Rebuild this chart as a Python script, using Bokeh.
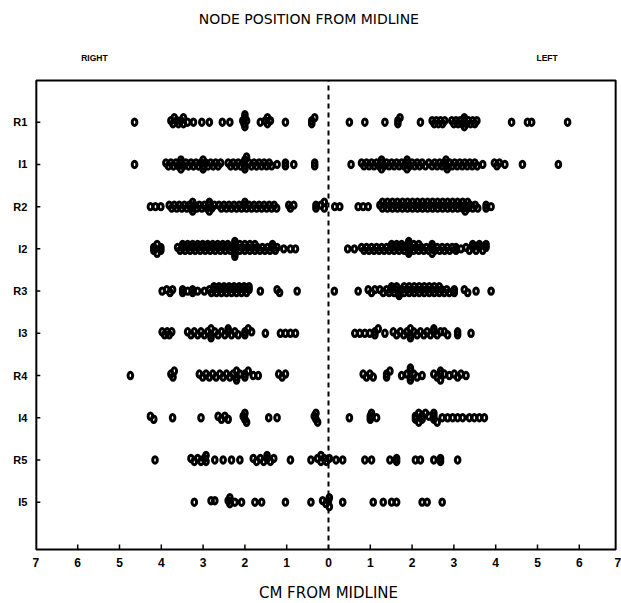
from bokeh.plotting import figure
from bokeh.models import Range1d, ColumnDataSource
from bokeh.core.properties import value
from bokeh.embed import file_html
from bokeh.resources import INLINE

# Row categories, top to bottom
rows = ["R1", "I1", "R2", "I2", "R3", "I3", "R4", "I4", "R5", "I5"]

# x axis ticks (cm from midline; negative = subject's RIGHT, positive = LEFT)
x_ticks = [-7, -6, -5, -4, -3, -2, -1, 0, 1, 2, 3, 4, 5, 6, 7]
x_tick_labels = ["7", "6", "5", "4", "3", "2", "1", "0", "1", "2", "3", "4", "5", "6", "7"]

# Node positions (cm); repeated values are coincident nodes
R1 = [-4.64, -3.77, -3.72, -3.69, -3.63, -3.59, -3.53, -3.47, -3.47, -3.37, -3.23, -3.03,
      -2.85, -2.54, -2.36, -2.05, -2.02, -2.0, -2.0, -2.0, -1.96, -1.63, -1.51, -1.46,
      -1.46, -1.39, -1.03, -0.40, -0.40, -0.33,
      0.50, 0.87, 1.35, 1.66, 1.66, 1.71, 2.20, 2.48, 2.53, 2.58, 2.63, 2.68, 2.73, 2.78,
      2.95, 3.00, 3.05, 3.10, 3.15, 3.20, 3.25, 3.25, 3.25, 3.30, 3.35, 3.40, 3.45, 3.50,
      3.55, 4.38, 4.76, 4.86, 5.72]

I1 = [-4.64, -3.89, -3.83, -3.77, -3.71, -3.65, -3.59, -3.53, -3.53, -3.53, -3.47, -3.41,
      -3.35, -3.29, -3.23, -3.17, -3.11, -3.05, -3.00, -3.00, -3.00, -2.94, -2.88, -2.82,
      -2.76, -2.70, -2.64, -2.58, -2.40, -2.34, -2.28, -2.22, -2.16, -2.10, -2.04, -2.00,
      -2.00, -2.00, -1.96, -1.90, -1.84, -1.78, -1.72, -1.66, -1.60, -1.54, -1.48, -1.42,
      -1.36, -1.23, -1.03, -1.03, -0.83, -0.33, -0.33,
      0.54, 0.79, 0.85, 0.91, 0.97, 1.03, 1.09, 1.15, 1.21, 1.27, 1.27, 1.27, 1.33, 1.39,
      1.45, 1.51, 1.57, 1.63, 1.69, 1.75, 1.81, 1.88, 1.88, 1.88, 1.94, 2.00, 2.06, 2.12,
      2.18, 2.24, 2.32, 2.40, 2.48, 2.54, 2.60, 2.66, 2.72, 2.78, 2.81, 2.81, 2.84, 2.90,
      2.96, 3.02, 3.08, 3.14, 3.20, 3.26, 3.32, 3.38, 3.44, 3.50, 3.56, 3.69, 3.97, 4.03,
      4.09, 4.22, 4.64, 5.50]

R2 = [-4.26, -4.14, -4.01, -3.81, -3.75, -3.69, -3.63, -3.57, -3.51, -3.45, -3.39, -3.33,
      -3.27, -3.25, -3.25, -3.21, -3.15, -3.09, -3.03, -2.97, -2.91, -2.85, -2.85, -2.85,
      -2.79, -2.73, -2.62, -2.56, -2.50, -2.44, -2.38, -2.32, -2.26, -2.20, -2.14, -2.08,
      -2.02, -2.00, -1.96, -1.90, -1.84, -1.78, -1.72, -1.66, -1.60, -1.54, -1.48, -1.42,
      -1.36, -1.30, -1.24, -0.95, -0.91, -0.83, -0.30, -0.30, -0.18, -0.10, -0.10,
      0.15, 0.27, 0.71, 0.83, 0.95, 1.23, 1.29, 1.29, 1.35, 1.41, 1.41, 1.47, 1.53, 1.53,
      1.59, 1.65, 1.65, 1.71, 1.77, 1.77, 1.83, 1.89, 1.89, 1.95, 2.01, 2.01, 2.07, 2.13,
      2.13, 2.19, 2.25, 2.25, 2.31, 2.37, 2.37, 2.43, 2.49, 2.49, 2.55, 2.61, 2.61, 2.67,
      2.73, 2.73, 2.79, 2.85, 2.85, 2.91, 2.97, 2.97, 3.03, 3.09, 3.09, 3.15, 3.21, 3.21,
      3.27, 3.27, 3.33, 3.33, 3.39, 3.45, 3.51, 3.57, 3.77, 3.77, 3.89]

I2 = [-4.18, -4.18, -4.10, -4.10, -4.01, -4.01, -3.61, -3.55, -3.49, -3.49, -3.43, -3.37,
      -3.37, -3.31, -3.25, -3.25, -3.19, -3.13, -3.13, -3.07, -3.01, -3.01, -2.95, -2.89,
      -2.89, -2.83, -2.77, -2.77, -2.71, -2.65, -2.65, -2.59, -2.53, -2.53, -2.47, -2.41,
      -2.41, -2.35, -2.30, -2.24, -2.24, -2.24, -2.24, -2.24, -2.18, -2.12, -2.12, -2.06,
      -2.00, -2.00, -1.94, -1.88, -1.88, -1.82, -1.76, -1.76, -1.70, -1.64, -1.58, -1.52,
      -1.46, -1.40, -1.34, -1.34, -1.27, -1.23, -1.07, -0.91, -0.79,
      0.46, 0.62, 0.79, 0.85, 0.91, 0.97, 1.03, 1.09, 1.15, 1.21, 1.27, 1.33, 1.39, 1.45,
      1.51, 1.51, 1.57, 1.63, 1.63, 1.69, 1.75, 1.75, 1.81, 1.87, 1.92, 1.92, 1.92, 1.92,
      1.98, 2.04, 2.04, 2.10, 2.16, 2.16, 2.22, 2.28, 2.34, 2.40, 2.48, 2.48, 2.48, 2.54,
      2.60, 2.66, 2.72, 2.78, 2.84, 2.90, 2.96, 3.05, 3.05, 3.17, 3.29, 3.37, 3.45, 3.45,
      3.53, 3.61, 3.61, 3.69, 3.77, 3.77]

R3 = [-3.98, -3.87, -3.79, -3.73, -3.49, -3.49, -3.37, -3.25, -3.25, -3.13, -2.97, -2.85,
      -2.80, -2.74, -2.74, -2.68, -2.62, -2.62, -2.56, -2.50, -2.50, -2.44, -2.38, -2.38,
      -2.32, -2.26, -2.26, -2.20, -2.14, -2.14, -2.08, -2.02, -2.02, -1.96, -1.90, -1.90,
      -1.63, -1.23, -1.17, -0.75,
      0.14, 0.71, 0.95, 1.03, 1.11, 1.23, 1.31, 1.39, 1.45, 1.51, 1.51, 1.57, 1.63, 1.63,
      1.69, 1.69, 1.75, 1.81, 1.81, 1.87, 1.93, 1.93, 1.99, 2.05, 2.05, 2.11, 2.17, 2.17,
      2.23, 2.29, 2.29, 2.35, 2.41, 2.41, 2.47, 2.53, 2.53, 2.59, 2.65, 2.65, 2.71, 2.77,
      2.83, 2.89, 3.01, 3.01, 3.25, 3.33, 3.53, 3.89]

I3 = [-3.98, -3.92, -3.86, -3.81, -3.75, -3.37, -3.29, -3.21, -3.13, -3.05, -2.97, -2.89,
      -2.81, -2.81, -2.81, -2.72, -2.64, -2.56, -2.48, -2.40, -2.40, -2.32, -2.24, -2.16,
      -2.00, -2.00, -1.92, -1.84, -1.51, -1.15, -1.03, -0.91, -0.79,
      0.63, 0.75, 0.87, 0.99, 1.11, 1.11, 1.19, 1.35, 1.55, 1.63, 1.72, 1.80, 1.88, 1.96,
      1.96, 1.96, 2.04, 2.12, 2.20, 2.28, 2.36, 2.44, 2.52, 2.52, 2.60, 2.68, 2.77, 2.85,
      3.09, 3.09, 3.41]

R4 = [-4.74, -3.77, -3.72, -3.69, -3.09, -3.01, -2.93, -2.85, -2.77, -2.69, -2.60, -2.52,
      -2.44, -2.36, -2.28, -2.20, -2.20, -2.20, -2.12, -2.00, -2.00, -1.92, -1.80, -1.68,
      -1.19, -1.11, -1.03,
      0.83, 0.91, 0.99, 1.07, 1.39, 1.39, 1.47, 1.75, 1.88, 1.96, 1.96, 1.96, 1.96, 2.04,
      2.12, 2.24, 2.52, 2.60, 2.68, 2.68, 2.68, 2.77, 2.89, 3.01, 3.09, 3.17, 3.29]

I4 = [-4.26, -4.18, -3.73, -3.05, -2.64, -2.56, -2.48, -2.40, -2.04, -2.00, -2.00, -1.96,
      -1.43, -1.23, -0.34, -0.30, -0.30, -0.26,
      0.50, 1.00, 1.00, 1.03, 1.15, 2.08, 2.08, 2.16, 2.16, 2.24, 2.24, 2.32, 2.40, 2.52,
      2.52, 2.52, 2.60, 2.72, 2.85, 2.97, 3.09, 3.21, 3.37, 3.49, 3.61, 3.73]

R5 = [-4.15, -3.29, -3.21, -3.13, -3.05, -2.97, -2.93, -2.93, -2.72, -2.52, -2.32, -2.12,
      -1.80, -1.72, -1.63, -1.55, -1.47, -1.47, -1.39, -1.31, -0.91, -0.42, -0.26, -0.18,
      -0.18, -0.10, -0.05,
      0.02, 0.18, 0.34, 0.87, 1.03, 1.47, 1.63, 1.63, 2.08, 2.20, 2.52, 2.68, 2.68, 3.09]

I5 = [-3.21, -2.81, -2.72, -2.40, -2.36, -2.36, -2.24, -2.08, -1.76, -1.60, -1.03, -0.42,
      -0.14, -0.06,
      0.00, 0.02, 0.02, 0.34, 1.07, 1.31, 1.51, 1.63, 2.24, 2.36, 2.72]

row_values = [R1, I1, R2, I2, R3, I3, R4, I4, R5, I5]

# ---------------- layout constants (screen geometry, not data) ----------------
W, H = 621, 603
X0, X1 = -7.847, 7.010          # canvas edges in cm
Y0, Y1 = -1.400, 12.883          # canvas edges in row units (I5 = 1 ... R1 = 10)
BOX_L, BOX_R, BOX_B, BOX_T = -6.99, 6.87, -0.121, 10.988
PX_X = W / (X1 - X0)            # pixels per cm
PX_Y = H / (Y1 - Y0)            # pixels per row unit
GAP = 0.09                      # min. horizontal clearance (cm) within one stack level
STACK = 3.0 / PX_Y              # vertical step between stack levels (row units)
LEVELS = [0.5, -0.5, 1.5, -1.5, 2.5, -2.5, 3.5, -3.5]


def swarm_levels(vals):
    """Crowded nodes are split over half-step levels above/below the row line;
    isolated nodes stay on the line."""
    order = sorted(range(len(vals)), key=lambda i: vals[i])
    srt = [vals[i] for i in order]
    last = {}
    levels = [0.0] * len(vals)
    for j, i in enumerate(order):
        v = vals[i]
        crowded = (j > 0 and v - srt[j - 1] < GAP) or \
                  (j < len(srt) - 1 and srt[j + 1] - v < GAP)
        if not crowded:
            levels[i] = 0.0
            continue
        chosen = LEVELS[-1]
        for lv in LEVELS:
            if lv not in last or v - last[lv] >= GAP - 1e-9:
                chosen = lv
                break
        last[chosen] = v
        levels[i] = chosen
    return levels


xs, ys = [], []
for i, vals in enumerate(row_values):
    yrow = len(rows) - i
    for v, lv in zip(vals, swarm_levels(vals)):
        xs.append(v)
        ys.append(yrow + lv * STACK)
src = ColumnDataSource(dict(x=xs, y=ys))

p = figure(width=W, height=H, output_backend="svg", toolbar_location=None,
           x_range=Range1d(X0, X1), y_range=Range1d(Y0, Y1),
           min_border=0, min_border_left=0, min_border_right=0,
           min_border_top=0, min_border_bottom=0)
p.axis.visible = False
p.grid.visible = False
p.outline_line_color = None
p.background_fill_color = "white"
p.border_fill_color = "white"

# frame box
p.quad(left=[BOX_L], right=[BOX_R], bottom=[BOX_B], top=[BOX_T],
       fill_color=None, line_color="black", line_width=2)

# x ticks (pointing inward from the bottom edge) and labels
inner_ticks = [t for t in x_ticks if abs(t) < 7 and t != 0]
p.segment(x0=inner_ticks, y0=[BOX_B] * len(inner_ticks),
          x1=inner_ticks, y1=[BOX_B + 5 / PX_Y] * len(inner_ticks),
          line_color="black", line_width=1.5)
lab_y = BOX_B - 13 / PX_Y
main_t = [t for t in x_ticks if t < max(x_ticks)]
main_l = [l for t, l in zip(x_ticks, x_tick_labels) if t < max(x_ticks)]
p.text(x=main_t, y=[lab_y] * len(main_t), text=main_l,
       text_align="center", text_baseline="middle",
       text_font=value("Liberation Sans"), text_font_style="bold",
       text_font_size="12px", text_color="black")
last_t = [t for t in x_ticks if t == max(x_ticks)]
last_l = [l for t, l in zip(x_ticks, x_tick_labels) if t == max(x_ticks)]
p.text(x=last_t, y=[lab_y] * len(last_t), text=last_l,
       text_align="right", text_baseline="middle",
       text_font=value("Liberation Sans"), text_font_style="bold",
       text_font_size="12px", text_color="black")

# y ticks (pointing inward from the left edge) and row labels
row_y = [len(rows) - i for i in range(len(rows))]
p.segment(x0=[BOX_L] * len(rows), y0=row_y, x1=[BOX_L + 4 / PX_X] * len(rows), y1=row_y,
          line_color="black", line_width=1.5)
p.text(x=[BOX_L - 9 / PX_X] * len(rows), y=row_y, text=rows,
       text_align="right", text_baseline="middle",
       text_font=value("Liberation Sans"), text_font_style="bold",
       text_font_size="11px", text_color="black")

# dashed midline
p.segment(x0=[0], y0=[BOX_B], x1=[0], y1=[BOX_T], line_color="black",
          line_width=2, line_dash="5 4")

# nodes as open circles (slightly tall, heavy stroke like the plotted "O")
p.ellipse(x="x", y="y", width=4.6, height=6.4, width_units="screen",
          height_units="screen", source=src, fill_color=None,
          line_color="black", line_width=3.0)

# titles / side labels / axis title
p.text(x=[-0.47], y=[BOX_T + 62 / PX_Y], text=["NODE POSITION FROM MIDLINE"],
       text_align="center", text_baseline="middle",
       text_font=value("DejaVu Sans"), text_font_size="14px", text_color="black")
p.text(x=[-5.60, 5.23], y=[BOX_T + 23 / PX_Y] * 2, text=["RIGHT", "LEFT"],
       text_align="center", text_baseline="middle",
       text_font=value("Liberation Sans"), text_font_style="bold",
       text_font_size="8.5px", text_color="black")
p.text(x=[0.0], y=[BOX_B - 43 / PX_Y], text=["CM FROM MIDLINE"],
       text_align="center", text_baseline="middle",
       text_font=value("DejaVu Sans"), text_font_size="15px", text_color="black")

open("out.html", "w").write(file_html(p, INLINE))
